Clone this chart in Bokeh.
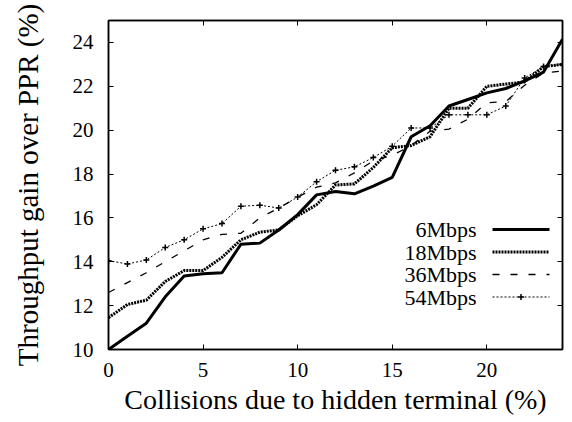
from bokeh.plotting import figure
from bokeh.models import Range1d, LinearAxis, FixedTicker
from bokeh.core.properties import value
from bokeh.embed import file_html
from bokeh.resources import INLINE

# ---- data ----
collisions = list(range(25))
gain_6mbps = [10.0, 10.6, 11.2, 12.4, 13.35, 13.45, 13.5, 14.8, 14.85, 15.45, 16.15, 17.05, 17.2,
              17.1, 17.45, 17.85, 19.7, 20.2, 21.1, 21.4, 21.7, 21.9, 22.25, 22.65, 24.15]
gain_18mbps = [11.45, 12.05, 12.25, 13.1, 13.6, 13.6, 14.2, 15.0, 15.35, 15.45, 16.1, 16.6, 17.5,
               17.55, 18.3, 19.2, 19.3, 19.7, 21.0, 21.0, 22.0, 22.1, 22.2, 22.9, 23.0]
gain_36mbps = [12.6, 13.05, 13.5, 14.0, 14.5, 15.0, 15.25, 15.3, 16.0, 16.45, 16.95, 17.4, 17.6,
               18.05, 18.6, 18.85, 19.3, 19.95, 20.05, 20.5, 21.25, 21.3, 22.05, 22.6, 22.7]
gain_54mbps = [14.05, 13.9, 14.08, 14.65, 15.0, 15.5, 15.74, 16.53, 16.58, 16.45, 16.95, 17.65, 18.17,
               18.33, 18.75, 19.27, 20.1, 20.1, 20.7, 20.7, 20.7, 21.1, 22.38, 22.9, 23.0]
series_labels = ["6Mbps", "18Mbps", "36Mbps", "54Mbps"]
x_ticks = [0, 5, 10, 15, 20]
y_ticks = [10, 12, 14, 16, 18, 20, 22, 24]

FONT = "'Liberation Serif'"

W, H = 572, 422
BL, BR, BT, BB = 108, 10, 20, 73
p = figure(width=W, height=H, x_range=Range1d(0, 24), y_range=Range1d(10, 25),
           output_backend="svg", toolbar_location=None,
           min_border_left=BL, min_border_right=BR, min_border_top=BT, min_border_bottom=BB)
p.grid.visible = False
p.background_fill_color = "white"
p.border_fill_color = "white"
p.outline_line_color = "black"
p.outline_line_width = 1.5

def style_axis(ax, ticks, show_labels, title_size="28px"):
    ax.ticker = FixedTicker(ticks=ticks)
    ax.major_tick_in = 5
    ax.major_tick_out = 0
    ax.major_tick_line_color = "black"
    ax.major_tick_line_width = 1
    ax.minor_tick_line_color = None
    ax.axis_line_color = "black"
    ax.axis_line_width = 1.5
    if show_labels:
        ax.major_label_text_font = FONT
        ax.major_label_text_font_size = "21px"
        ax.major_label_text_color = "black"
        ax.axis_label_text_font = FONT
        ax.axis_label_text_font_size = title_size
        ax.axis_label_text_font_style = "normal"
        ax.axis_label_text_color = "black"
    else:
        ax.major_label_text_font_size = "1px"
        ax.major_label_text_color = None
        ax.major_label_standoff = 0

xa = p.xaxis[0]
style_axis(xa, x_ticks, True, "28px")
xa.axis_label = "Collisions due to hidden terminal (%)"
xa.major_label_standoff = 13
xa.axis_label_standoff = 4

ya = p.yaxis[0]
style_axis(ya, y_ticks, True, "29px")
ya.axis_label = "Throughput gain over PPR (%)"
ya.major_label_standoff = 15
ya.axis_label_standoff = 26

top = LinearAxis()
style_axis(top, x_ticks, False)
p.add_layout(top, "above")
right = LinearAxis()
style_axis(right, y_ticks, False)
p.add_layout(right, "right")

r6 = dict(line_color="black", line_width=3)
r18 = dict(line_color="black", line_width=3, line_dash="2 1")
r36 = dict(line_color="black", line_width=1.3, line_dash="7 11")
r54 = dict(line_color="black", line_width=1, line_dash="2 2")
m54 = dict(marker="cross", size=6, line_color="black", line_width=1.5)

p.line(collisions, gain_6mbps, **r6)
p.line(collisions, gain_18mbps, **r18)
p.line(collisions, gain_36mbps, **r36)
p.line(collisions, gain_54mbps, **r54)
p.scatter(collisions, gain_54mbps, **m54)

# ---- key (in frame pixel coordinates): names right-aligned, samples to the right ----
FW, FH = W - BL - BR, H - BT - BB
p.extra_x_ranges = {"px": Range1d(0, FW)}
p.extra_y_ranges = {"px": Range1d(0, FH)}
key_x0, key_x1 = 384, 441
key_top, row_h = 120, 22.5
styles = [r6, r18, r36, r54]
key_ys = []
for i in range(len(series_labels)):
    yc = key_top - i * row_h
    key_ys.append(yc)
    p.line([key_x0, key_x1], [yc, yc], x_range_name="px", y_range_name="px", **styles[i])
p.scatter([(key_x0 + key_x1) / 2], [key_ys[3]], x_range_name="px", y_range_name="px", **m54)
p.text(x=[key_x0 - 16] * len(series_labels), y=key_ys, text=series_labels,
       x_range_name="px", y_range_name="px",
       text_align="right", text_baseline="middle",
       text_font=value(FONT), text_font_size="22px", text_color="black")

open("out.html", "w").write(file_html(p, INLINE))
